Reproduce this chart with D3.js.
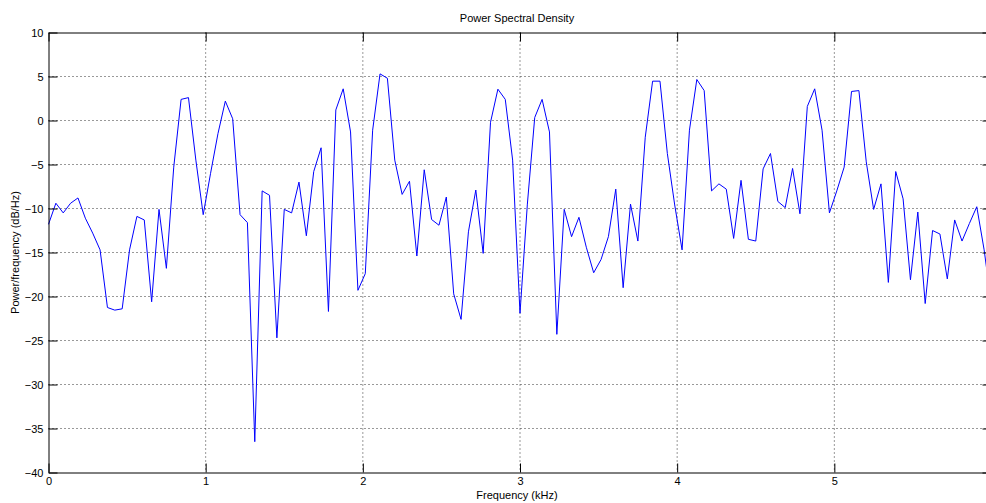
<!DOCTYPE html>
<html>
<head>
<meta charset="utf-8">
<script src="https://cdn.jsdelivr.net/npm/d3@7"></script>
<style>
  body { margin: 0; background: #fff; overflow: hidden; }
  svg text { font-family: "Liberation Sans", Arial, sans-serif; font-size: 11px; fill: #000; }
</style>
</head>
<body>
<div id="psd"></div>
<script>
"use strict";

// frequency bin spacing: 12 kHz / 256
const binWidth = 12 / 256;

// PSD values in dB/Hz, one per bin (0 .. 128)
const psdValues = [
  -11.8, -9.4, -10.5, -9.4, -8.8, -11.1, -12.8, -14.7, -21.25, -21.55,
  -21.4, -14.7, -10.9, -11.3, -20.6, -10.1, -16.8, -5.3, 2.4, 2.6,
  -4.5, -10.7, -6.0, -1.5, 2.2, 0.2, -10.7, -11.6, -36.5, -8.0,
  -8.5, -24.7, -10.1, -10.5, -7.0, -13.1, -5.8, -3.1, -21.7, 1.2,
  3.6, -1.3, -19.3, -17.4, -1.1, 5.3, 4.8, -4.5, -8.4, -6.9,
  -15.4, -5.6, -11.25, -11.9, -8.7, -19.7, -22.6, -12.65, -7.9, -15.1,
  -0.2, 3.56, 2.4, -4.5, -21.9, -9.5, 0.34, 2.4, -1.3, -24.3,
  -10.1, -13.2, -11.0, -14.4, -17.3, -15.8, -13.2, -7.8, -19.0, -9.5,
  -13.7, -1.9, 4.47, 4.47, -3.75, -9.6, -14.7, -1.1, 4.66, 3.4,
  -8.0, -7.2, -7.8, -13.4, -6.8, -13.5, -13.7, -5.5, -3.75, -9.2,
  -9.9, -5.45, -10.6, 1.6, 3.6, -1.1, -10.5, -8.0, -5.3, 3.3,
  3.4, -4.7, -10.1, -7.2, -18.4, -5.8, -8.9, -18.1, -10.4, -20.8,
  -12.5, -12.9, -18.0, -11.3, -13.7, -11.7, -9.8, -14.7, -21.0
];

const xTicks = [0, 1, 2, 3, 4, 5];
const yTicks = [-40, -35, -30, -25, -20, -15, -10, -5, 0, 5, 10];

const psdData = psdValues.map((v, i) => ({ freq: i * binWidth, db: v }));

const margin = {top: 32.5, left: 48.5},
      width = 943,
      height = 440;

const svg = d3.select("#psd")
  .append("svg")
  .attr("width", 986)
  .attr("height", 503);

const g = svg.append("g")
  .attr("transform", "translate(" + margin.left + "," + margin.top + ")");

const x = d3.scaleLinear().domain([0, 6]).range([0, width]);
const y = d3.scaleLinear().domain([-40, 10]).range([height, 0]);

// dotted grid
g.append("g")
  .selectAll("line")
  .data(xTicks.slice(1))
  .join("line")
  .attr("x1", d => x(d)).attr("x2", d => x(d))
  .attr("y1", 0).attr("y2", height)
  .attr("stroke", "#333")
  .attr("stroke-width", 1)
  .attr("stroke-dasharray", "1,3");

g.append("g")
  .selectAll("line")
  .data(yTicks.slice(1, -1))
  .join("line")
  .attr("x1", 0).attr("x2", width)
  .attr("y1", d => y(d)).attr("y2", d => y(d))
  .attr("stroke", "#333")
  .attr("stroke-width", 1)
  .attr("stroke-dasharray", "1,3");

// the PSD line
g.append("path")
  .datum(psdData)
  .attr("fill", "none")
  .attr("stroke", "#0000ff")
  .attr("stroke-width", 1)
  .attr("d", d3.line()
    .x(d => x(d.freq))
    .y(d => y(d.db))
  );

// axes, MATLAB style: ticks pointing inward, box all round
const tickLen = 9;

const xAxis = g.append("g")
  .attr("transform", "translate(0," + height + ")")
  .call(d3.axisBottom(x).tickValues(xTicks).tickSizeInner(-tickLen).tickSizeOuter(0).tickPadding(5)
    .tickFormat(d3.format("d")));

const xAxisTop = g.append("g")
  .call(d3.axisTop(x).tickValues(xTicks).tickSizeInner(-tickLen).tickSizeOuter(0).tickFormat(""));

const yAxis = g.append("g")
  .call(d3.axisLeft(y).tickValues(yTicks).tickSizeInner(-tickLen).tickSizeOuter(0).tickPadding(5)
    .tickFormat(d3.format("d")));

const yAxisRight = g.append("g")
  .attr("transform", "translate(" + width + ",0)")
  .call(d3.axisRight(y).tickValues(yTicks).tickSizeInner(-tickLen).tickSizeOuter(0).tickFormat(""));

[xAxis, xAxisTop, yAxis, yAxisRight].forEach(a => {
  a.select(".domain").attr("stroke", "#000");
  a.selectAll(".tick line").attr("stroke", "#000");
  a.selectAll("text").attr("font-family", null).attr("font-size", null).attr("fill", "#000");
});

// title and labels
svg.append("text")
  .attr("text-anchor", "middle")
  .attr("x", 517)
  .attr("y", 22)
  .text("Power Spectral Density");

svg.append("text")
  .attr("text-anchor", "middle")
  .attr("x", 517)
  .attr("y", 499)
  .text("Frequency (kHz)");

svg.append("text")
  .attr("text-anchor", "middle")
  .attr("transform", "translate(19," + (margin.top + height / 2) + ") rotate(-90)")
  .text("Power/frequency (dB/Hz)");
</script>
</body>
</html>
